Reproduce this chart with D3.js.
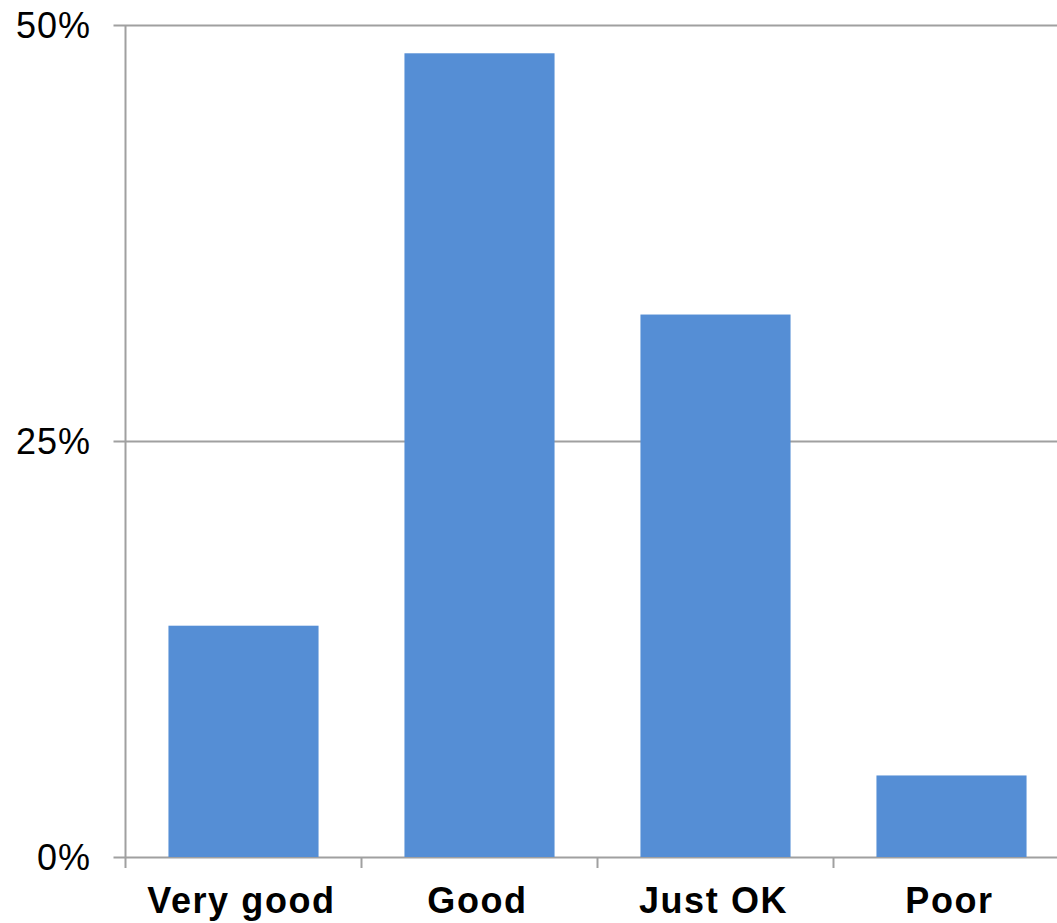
<!DOCTYPE html>
<html>
<head>
<meta charset="utf-8">
<script src="https://cdn.jsdelivr.net/npm/d3@7"></script>
<style>
  body { margin: 0; background: #fff; }
  svg { display: block; font-family: Arial, "Liberation Sans", sans-serif; }
</style>
</head>
<body>
<div id="chart"></div>
<script>
// data
let categories = ["Very good", "Good", "Just OK", "Poor"];
let values = [13.9, 48.3, 32.6, 4.9];
let yTicks = [0, 25, 50];

// size of svg
let width = 1057;
let height = 923;

// plot area (right side runs past the edge of the picture)
let plotLeft = 125.5;
let plotRight = 1069.5;
let plotTop = 25;
let plotBottom = 857;

let svg = d3.select("#chart")
  .append("svg")
  .attr("width", width)
  .attr("height", height);

let xScale = d3.scaleBand()
  .domain(categories)
  .range([plotLeft, plotRight])
  .paddingInner(0.364)
  .paddingOuter(0.182);

let yScale = d3.scaleLinear()
  .domain([0, 50])
  .range([plotBottom, plotTop]);

// gridlines
svg.append("g")
  .selectAll("line")
  .data(yTicks)
  .enter()
  .append("line")
  .attr("x1", plotLeft - 12)
  .attr("x2", width)
  .attr("y1", d => Math.round(yScale(d)) + 0.5)
  .attr("y2", d => Math.round(yScale(d)) + 0.5)
  .attr("stroke", "#a0a0a0")
  .attr("stroke-width", 2);

// bars
svg.append("g")
  .selectAll("rect")
  .data(values)
  .enter()
  .append("rect")
  .attr("x", (d, i) => xScale(categories[i]))
  .attr("y", d => yScale(d))
  .attr("width", xScale.bandwidth())
  .attr("height", d => plotBottom - yScale(d))
  .attr("fill", "#558ed5");

// y axis line
svg.append("line")
  .attr("x1", plotLeft)
  .attr("x2", plotLeft)
  .attr("y1", plotTop)
  .attr("y2", plotBottom + 11)
  .attr("stroke", "#a0a0a0")
  .attr("stroke-width", 2);

// category separator ticks
let step = xScale.step();
svg.append("g")
  .selectAll("line")
  .data(d3.range(1, categories.length + 1))
  .enter()
  .append("line")
  .attr("x1", d => plotLeft + d * step)
  .attr("x2", d => plotLeft + d * step)
  .attr("y1", plotBottom)
  .attr("y2", plotBottom + 11)
  .attr("stroke", "#a0a0a0")
  .attr("stroke-width", 2);

// y tick labels
svg.append("g")
  .selectAll("text")
  .data(yTicks)
  .enter()
  .append("text")
  .attr("x", 91)
  .attr("y", d => yScale(d))
  .attr("dy", "0.35em")
  .attr("text-anchor", "end")
  .attr("font-size", "36px")
  .attr("letter-spacing", "1px")
  .attr("fill", "#000")
  .text(d => d + "%");

// x labels
svg.append("g")
  .selectAll("text")
  .data(categories)
  .enter()
  .append("text")
  .attr("x", d => xScale(d) + xScale.bandwidth() / 2 - 2)
  .attr("y", 913)
  .attr("text-anchor", "middle")
  .attr("font-size", "36px")
  .attr("font-weight", "bold")
  .attr("letter-spacing", "1.6px")
  .attr("fill", "#000")
  .text(d => d);
</script>
</body>
</html>
